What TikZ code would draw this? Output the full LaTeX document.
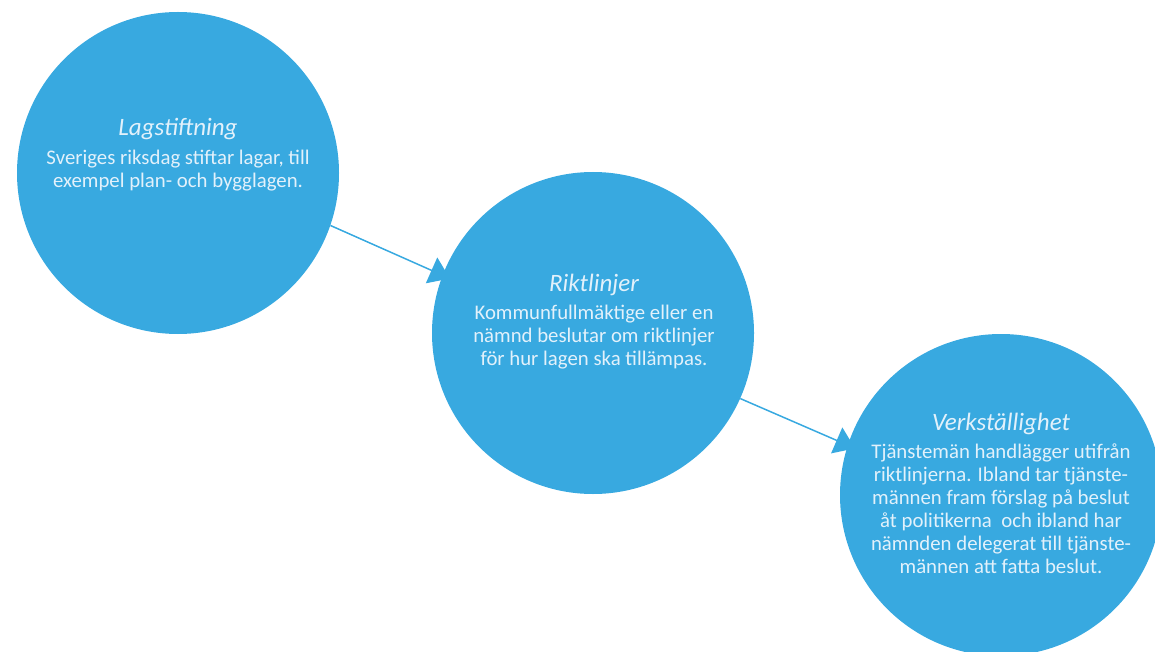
\documentclass[tikz,border=0pt]{standalone}
\usepackage{fontspec}
\setmainfont{Carlito}
\usetikzlibrary{arrows.meta,backgrounds}
\definecolor{ballblue}{RGB}{56,169,224}
\definecolor{balltext}{RGB}{226,241,251}
\tikzset{
	ball/.style={shape=circle,fill=ballblue,draw=none,minimum size=322pt,inner sep=0pt},
	headtext/.style={anchor=base,text=balltext,font=\fontsize{25}{28}\selectfont\itshape,inner sep=0pt},
	bodytext/.style={anchor=base,text=balltext,align=center,font=\fontsize{20.8}{23}\selectfont,inner sep=0pt},
	flow/.style={draw=ballblue,line width=1.5pt,-{Triangle[length=20pt,width=28pt]},shorten >=-8pt}
}
\begin{document}
\begin{tikzpicture}[x=1pt,y=-1pt]
		\useasboundingbox (0,0) rectangle (1155,652);
		\node[ball] (lag) at (178,173) {};
		\node[ball] (rikt) at (593,333) {};
		\node[ball] (verk) at (1001,495) {};

		\node[headtext] (lagtitle) at (178,136) {Lagstiftning};
		\node[bodytext] (lagbody) at (178,188) {Sveriges riksdag stiftar lagar, till\\exempel plan- och bygglagen.};
		\node[headtext] (rikttitle) at (594,291) {Riktlinjer};
		\node[bodytext] (riktbody) at (594,365) {Kommunfullmäktige eller en\\nämnd beslutar om riktlinjer\\för hur lagen ska tillämpas.};
		\node[headtext] (verktitle) at (1001,430) {Verkställighet};
		\node[bodytext] (verkbody) at (1001,573) {Tjänstemän handlägger utifrån\\riktlinjerna. Ibland tar tjänste-\\männen fram förslag på beslut\\åt politikerna \ och ibland har\\nämnden delegerat till tjänste-\\männen att fatta beslut.};

		\begin{scope}[on background layer]
		\draw (lag.-19) [flow] -- (rikt.159);
		\draw (rikt.-24) [flow] -- (verk.162);
		\end{scope}
\end{tikzpicture}
\end{document}
